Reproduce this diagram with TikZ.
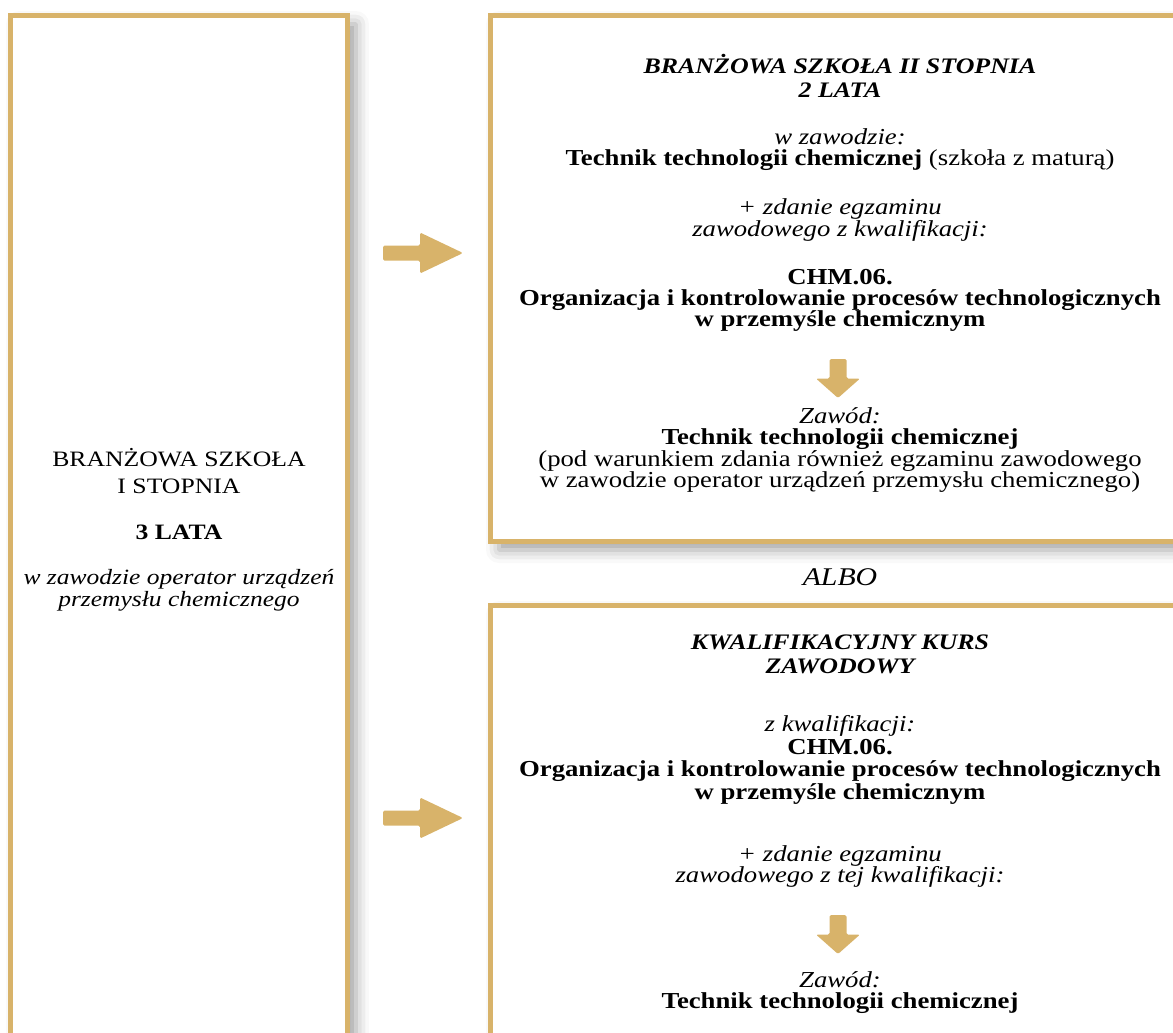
\documentclass[tikz,border=0pt]{standalone}
\usepackage{fontspec}
\setmainfont{Liberation Serif}[FakeStretch=1.17]
\usetikzlibrary{shadows.blur}

\definecolor{gold}{RGB}{216,179,106}

\newcommand\bodyfont{\fontsize{13pt}{12pt}\selectfont}
\newcommand\headfont{\fontsize{12.6pt}{13.6pt}\selectfont\bfseries\itshape}

\tikzset{
  frame/.style={draw=gold, line width=0.1cm, fill=white,
    blur shadow={shadow xshift=0.17cm, shadow yshift=-0.17cm,
      shadow blur radius=0.26cm, shadow opacity=38}},
  txt/.style={align=center, inner sep=0pt, font=\bodyfont},
  head/.style={txt, font=\headfont},
  arrowfill/.style={fill=gold, rounded corners=0.03cm},
  pics/rarrow/.style={code={
    \fill[arrowfill] (-40,-7.5) -- (-3,-7.5) -- (-3,-20.5) -- (40,0)
      -- (-3,20.5) -- (-3,7.5) -- (-40,7.5) -- cycle;}},
  pics/darrow/.style={code={
    \fill[arrowfill] (-8.5,-19.5) -- (8.5,-19.5) -- (8.5,0) -- (22,0)
      -- (0,19.5) -- (-22,0) -- (-8.5,0) -- cycle;}},
}

\begin{document}
\begin{tikzpicture}[x=0.02cm, y=-0.02cm]
  \useasboundingbox (0,0) rectangle (1173,1032);
  \clip (0,0) rectangle (1173,1032);

  % Frames
  \draw[frame] (10.5,15.5) rectangle (347.5,1080);
  \draw[frame] (490.5,15.5) rectangle (1210,541.5);
  \draw[frame] (490.5,605.5) rectangle (1210,1080);

  % First school
  \node[txt, font=\fontsize{12.5pt}{15pt}\selectfont] (lname) at (179,471)
    {BRANŻOWA SZKOŁA\\I STOPNIA};
  \node[txt, font=\fontsize{12.5pt}{12pt}\selectfont\bfseries] (lyears) at (179,532) {3 LATA};
  \node[txt, font=\fontsize{12.4pt}{11pt}\selectfont\itshape] (ljob) at (179,590.5)
    {w zawodzie operator urządzeń\\przemysłu chemicznego};

  % Arrows to the right
  \pic at (423,253) {rarrow};
  \pic at (423,818) {rarrow};

  % Second degree school
  \node[head] (sname) at (840,76) {BRANŻOWA SZKOŁA II STOPNIA\\2 LATA};
  \node[txt] (sjob) at (840,149.5)
    {\textit{w zawodzie:}\\\textbf{Technik technologii chemicznej} (szkoła z maturą)};
  \node[txt, font=\bodyfont\itshape] (sexam) at (840,220)
    {+ zdanie egzaminu\\zawodowego z kwalifikacji:};
  \node[txt, font=\bodyfont\bfseries] (squal) at (840,300)
    {CHM.06.\\Organizacja i kontrolowanie procesów technologicznych\\w przemyśle chemicznym};
  \pic at (838,378.5) {darrow};
  \node[txt, font=\fontsize{13pt}{12.1pt}\selectfont] (stitle) at (840,450)
    {\textit{Zawód:}\\\textbf{Technik technologii chemicznej}\\(pod warunkiem zdania również egzaminu zawodowego\\w zawodzie operator urządzeń przemysłu chemicznego)};

  \node[txt, font=\fontsize{14.5pt}{14.5pt}\selectfont\itshape] (or) at (840,577) {ALBO};

  % Qualification course
  \node[head] (cname) at (840,654.5) {KWALIFIKACYJNY KURS\\ZAWODOWY};
  \node[txt, font=\fontsize{13pt}{12.8pt}\selectfont] (cqual) at (840,760)
    {\textit{z kwalifikacji:}\\\textbf{CHM.06.}\\\textbf{Organizacja i kontrolowanie procesów technologicznych}\\\textbf{w przemyśle chemicznym}};
  \node[txt, font=\bodyfont\itshape] (cexam) at (840,866.5)
    {+ zdanie egzaminu\\zawodowego z tej kwalifikacji:};
  \pic at (838,934.5) {darrow};
  \node[txt] (ctitle) at (840,992.5)
    {\textit{Zawód:}\\\textbf{Technik technologii chemicznej}};
\end{tikzpicture}
\end{document}
